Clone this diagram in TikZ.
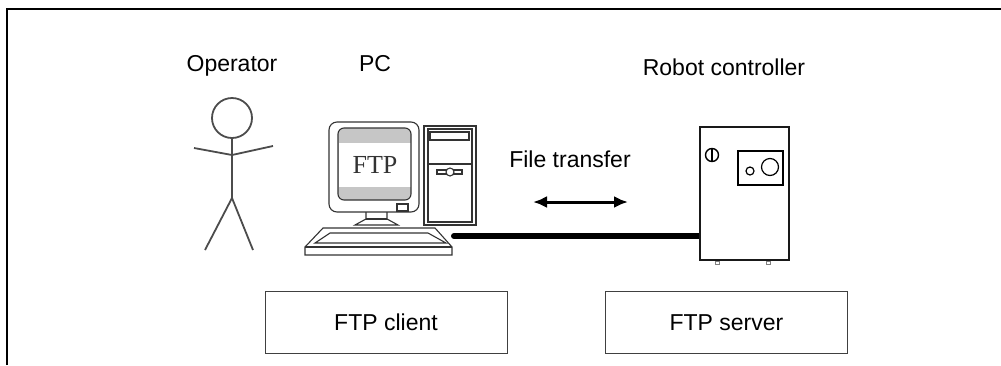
\documentclass[tikz,border=0pt]{standalone}
\usepackage{fontspec}
\setmainfont{Liberation Sans}
\newfontfamily\screenfont{Liberation Serif}
\usetikzlibrary{arrows.meta}

\begin{document}
\begin{tikzpicture}[x=0.5pt, y=-0.5pt,
  caption/.style = {font=\fontsize{11.5}{13}\selectfont, inner sep=0pt, anchor=base},
  role/.style = {draw=black!75, line width=0.5pt, minimum width=121pt, minimum height=31pt,
                 font=\fontsize{11.5}{13}\selectfont},
  person/.style = {draw=black!70, line width=0.9pt},
  device/.style = {draw=black!80, line width=0.55pt},
  housing/.style = {draw=black!90, line width=1.2pt, fill=white},
  cable/.style = {line width=3pt, line cap=round},
  ]
  \useasboundingbox (0,0) rectangle (1001,365);

  % frame
  \draw[line width=1.25pt] (7,365) -- (7,9) -- (1001,9);

  % titles
  \node[caption] (opname) at (232,71) {Operator};
  \node[caption] (pcname) at (375,71) {PC};
  \node[caption] (rcname) at (724,75) {Robot controller};
  \node[caption] (xfername) at (570,167) {File transfer};

  % operator
  \draw[person] (232,118) circle[radius=20];
  \draw[person] (232,138) -- (232,198);
  \draw[person] (194,148) -- (232,155) -- (273,146);
  \draw[person] (205,250) -- (232,198) -- (253,250);

  % monitor
  \draw[device, rounded corners=4pt] (329,122) rectangle (419,212);
  \fill[gray!45, rounded corners=3pt] (338,128) rectangle (411,200);
  \fill[white] (338.5,143) rectangle (410.5,187);
  \draw[device, rounded corners=3pt] (338,128) rectangle (411,200);
  \node[font=\screenfont\fontsize{13}{15}\selectfont, text=black!80] (screen) at (375,165) {FTP};
  \draw[device] (397,204) rectangle (408,211);
  \draw[device] (366,212) -- (366,219) -- (355,225) -- (398,225) -- (387,219) -- (387,212);
  \draw[device] (366,219) -- (387,219);

  % keyboard
  \draw[device] (323,228) -- (435,228) -- (452,247) -- (452,255) -- (305,255) -- (305,247) -- cycle;
  \draw[device] (305,247) -- (452,247);
  \draw[device] (330,233) -- (428,233) -- (446,243) -- (315,243) -- cycle;

  % tower
  \node[device, minimum width=26pt, minimum height=49.5pt, inner sep=0pt] (tower) at (450,175.5) {};
  \draw[device] (428,129) rectangle (472,222);
  \draw[device] (428,164) -- (472,164);
  \draw[device] (430,132) rectangle (469,140);
  \draw[device] (437,170) rectangle (462,174);
  \draw[device, fill=white] (450,172) circle[radius=4];

  % cable and transfer arrow
  \coordinate (plug) at (454,236);
  \node[housing, minimum width=44.5pt, minimum height=66.5pt, inner sep=0pt, fill=none] (ctrl) at (744.5,193.5) {};
  \draw[cable] (plug) -- (plug -| ctrl.west);
  \coordinate (xferA) at (533,202);
  \coordinate (xferB) at (628,202);
  \draw[line width=1.5pt, {Latex[length=7pt,width=6pt]}-{Latex[length=7pt,width=6pt]}] (xferA) -- (xferB);

  % robot controller
  \node[housing, minimum width=44.5pt, minimum height=66.5pt, inner sep=0pt] at (ctrl) {};
  \draw[line width=0.7pt] (712,155) circle[radius=6.5];
  \draw[line width=0.7pt] (712,148.5) -- (712,161.5);
  \draw[line width=1pt] (738,151) rectangle (783,185);
  \draw[line width=0.6pt] (750,171) circle[radius=4];
  \draw[line width=0.6pt] (770,167) circle[radius=8.5];
  \draw[gray, line width=0.4pt] (715,261) rectangle (719,264);
  \draw[gray, line width=0.4pt] (766,261) rectangle (770,264);

  % roles
  \node[role] (client) at (386,322) {FTP client};
  \node[role] (server) at (726.5,322.5) {FTP server};
\end{tikzpicture}
\end{document}
